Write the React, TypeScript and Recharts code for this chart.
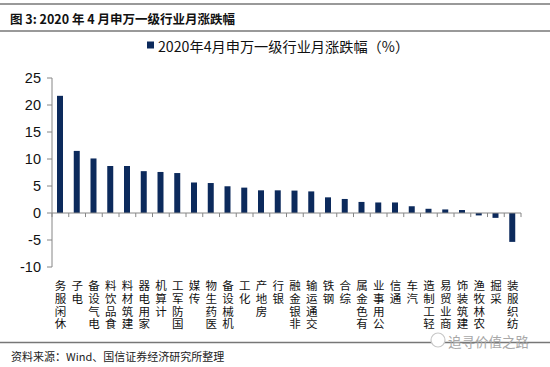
import React from "react";
import { BarChart, Bar, XAxis, YAxis, ReferenceLine } from "recharts";

const categories = [
  "休闲服务", "电子", "电气设备", "食品饮料", "建筑材料", "家用电器", "计算机",
  "国防军工", "传媒", "医药生物", "机械设备", "化工", "房地产", "银行",
  "非银金融", "交通运输", "钢铁", "综合", "有色金属", "公用事业", "通信",
  "汽车", "轻工制造", "商业贸易", "建筑装饰", "农林牧渔", "采掘", "纺织服装",
];
const values = [
  21.7, 11.5, 10.1, 8.7, 8.7, 7.75, 7.6, 7.4, 5.65, 5.55, 4.95, 4.7, 4.2, 4.2,
  4.15, 4.0, 2.9, 2.6, 2.05, 1.95, 1.95, 1.25, 0.78, 0.66, 0.55, -0.45, -0.9, -5.35,
];
const yTicks = [-10, -5, 0, 5, 10, 15, 20, 25];
const seriesName = "2020年4月申万一级行业月涨跌幅（%）";
const titleText = "图 3: 2020 年 4 月申万一级行业月涨跌幅";
const sourceText = "资料来源：Wind、国信证券经济研究所整理";
const watermark = "追寻价值之路";

const data = categories.map((c, i) => ({ name: c, value: values[i], pos: i + 0.5 }));
const boundaries = categories.map((_, i) => i).concat([categories.length]);

const CJK = "'Noto Sans CJK SC', 'Noto Sans', sans-serif";
const NUM = "'Liberation Sans', Arial, sans-serif";
const BAR = "#0c2a5c";
const AXIS = "#868686";

const CatTick = (props: any) => {
  const { x, y, payload } = props;
  const text = Array.from(String(payload.value)).reverse().join("");
  return (
    <text
      x={x}
      y={y + 13}
      fontSize={11.5}
      fontFamily={CJK}
      fill="#111"
      letterSpacing={1.2}
      style={{ writingMode: "vertical-rl", textOrientation: "upright" } as any}
    >
      {text}
    </text>
  );
};

export default function App() {
  return (
    <div style={{ position: "absolute", left: 0, top: 0, width: 550, height: 367, background: "#fff" }}>
      <svg width={550} height={367} style={{ position: "absolute", left: 0, top: 0 }}>
        <line x1={0} x2={550} y1={4} y2={4} stroke="#777" strokeWidth={1.5} />
        <text x={10} y={18} dominantBaseline="central" fontSize={12.5} fontWeight="bold" fontFamily={CJK} fill="#111">
          {titleText}
        </text>
        <line x1={0} x2={550} y1={31} y2={31} stroke="#777" strokeWidth={1.5} />
        <rect x={147} y={41.5} width={7} height={7} fill={BAR} />
        <text x={158} y={45.5} dominantBaseline="central" fontSize={14.2} fontFamily={CJK} fill="#111">
          {seriesName}
        </text>
        <line x1={0} x2={550} y1={342.5} y2={342.5} stroke="#777" strokeWidth={1.5} />
        <text x={11} y={356} dominantBaseline="central" fontSize={11} fontFamily={CJK} fill="#222">
          {sourceText}
        </text>
        <circle cx={438} cy={340} r={7} fill="#fff" stroke="#c8c8c8" strokeWidth={1.2} />
        <text x={448} y={341} dominantBaseline="central" fontSize={13.5} fontFamily={CJK} fill="#a8a8a8">
          {watermark}
        </text>
      </svg>
      <div style={{ position: "absolute", left: 0, top: 0 }}>
        <BarChart
          width={550}
          height={367}
          data={data}
          margin={{ top: 78, right: 29, bottom: 30, left: 8 }}
          barSize={6}
          style={{ background: "transparent" }}
        >
          <XAxis
            dataKey="name"
            interval={0}
            axisLine={false}
            tickLine={false}
            tickSize={0}
            tickMargin={0}
            height={70}
            tick={<CatTick />}
          />
          <XAxis
            xAxisId="num"
            dataKey="pos"
            type="number"
            domain={[0, categories.length]}
            hide
            allowDataOverflow
          />
          <YAxis
            domain={[-10, 25]}
            ticks={yTicks}
            interval={0}
            width={44}
            tickSize={5}
            tickMargin={6}
            axisLine={{ stroke: AXIS }}
            tickLine={{ stroke: AXIS }}
            tick={{ fontSize: 14.5, fill: "#111", fontFamily: NUM }}
          />
          <ReferenceLine y={0} stroke={AXIS} strokeWidth={1} />
          {boundaries.map((b) => (
            <ReferenceLine
              key={b}
              xAxisId="num"
              segment={[{ x: b, y: 0 }, { x: b, y: -0.75 }]}
              stroke={AXIS}
              strokeWidth={1}
              ifOverflow="visible"
            />
          ))}
          <Bar dataKey="value" fill={BAR} isAnimationActive={false} name={seriesName} />
        </BarChart>
      </div>
    </div>
  );
}
